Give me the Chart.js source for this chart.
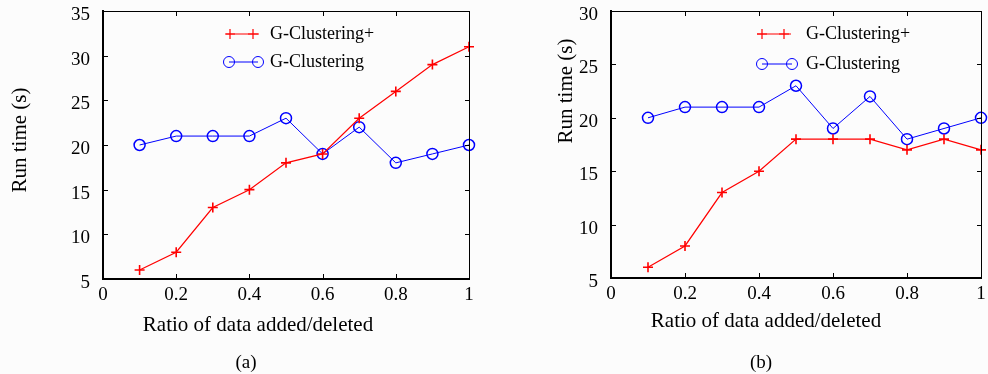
<!DOCTYPE html>
<html>
<head>
<meta charset="utf-8">
<script src="https://cdn.jsdelivr.net/npm/chart.js@4.4.0/dist/chart.umd.min.js"></script>
<style>
html, body { margin: 0; padding: 0; background: #fcfcfc; }
#wrap { position: relative; width: 988px; height: 374px; overflow: hidden; }
.box { position: absolute; top: 0; width: 494px; height: 374px; }
.cap { position: absolute; top: 351px; font: 19px 'Liberation Serif', serif; color: #000; transform: translateX(-50%); }
</style>
</head>
<body>
<div id="wrap">
  <div class="box" style="left:0"><canvas id="chartA" width="494" height="374"></canvas></div>
  <div class="box" style="left:494px"><canvas id="chartB" width="494" height="374"></canvas></div>
  <div class="cap" style="left:246px">(a)</div>
  <div class="cap" style="left:761px">(b)</div>
</div>
<script>
// data
const ratios = [0.1, 0.2, 0.3, 0.4, 0.5, 0.6, 0.7, 0.8, 0.9, 1.0];
const plusA = [6, 8, 13, 15, 18, 19, 23, 26, 29, 31];
const gclA  = [20, 21, 21, 21, 23, 19, 22, 18, 19, 20];
const plusB = [6, 8, 13, 15, 18, 18, 18, 17, 18, 17];
const gclB  = [20, 21, 21, 21, 23, 19, 22, 18, 19, 20];

const xTicks  = [0, 0.2, 0.4, 0.6, 0.8, 1];
const yTicksA = [5, 10, 15, 20, 25, 30, 35];
const yTicksB = [5, 10, 15, 20, 25, 30];

const seriesNames = ['G-Clustering+', 'G-Clustering'];
const xTitle = 'Ratio of data added/deleted';
const yTitle = 'Run time (s)';

const serif = "'Liberation Serif', 'Times New Roman', serif";

function pts(ys) {
    return ratios.map((x, i) => ({ x: x, y: ys[i] }));
}

// box round the plot with inward ticks, matlab style
function drawFrame(chart) {
    const g = chart.ctx;
    const a = chart.chartArea;
    const xs = chart.scales.x, ys = chart.scales.y;
    const L = Math.round(a.left), R = Math.round(a.right);
    const T = Math.round(a.top), B = Math.round(a.bottom);
    g.save();
    g.globalAlpha = 1;
    g.fillStyle = '#000000';
    g.fillRect(L, T, R - L + 1, 1);
    g.fillRect(R, T, 1, B - T + 1);
    g.fillRect(L - 1, T, 2, B - T + 1);
    g.fillRect(L - 1, B - 1, R - L + 2, 2);
    xTicks.forEach(v => {
        const px = Math.round(xs.getPixelForValue(v));
        g.fillRect(px, B - 5, 1, 4);
        g.fillRect(px, T + 1, 1, 4);
    });
    ys.ticks.forEach(t => {
        const py = Math.round(ys.getPixelForValue(t.value));
        g.fillRect(L + 1, py, 4, 1);
        g.fillRect(R - 4, py, 4, 1);
    });
    g.restore();
}

// axis titles, placed like the original (not centred on the plot)
function drawTitles(chart, t) {
    const g = chart.ctx;
    g.save();
    g.fillStyle = '#000';
    g.font = '21px ' + serif;
    g.textAlign = 'center';
    g.textBaseline = 'middle';
    g.fillText(xTitle, t.xx, t.xy);
    g.translate(t.yx, t.yy);
    g.rotate(-Math.PI / 2);
    g.fillText(yTitle, 0, 0);
    g.restore();
}

// legend drawn inside the plot, line sample with a marker at each end
function drawLegend(chart, opts) {
    const g = chart.ctx;
    g.save();
    chart.data.datasets.forEach((ds, i) => {
        const row = opts.rows[i];
        g.strokeStyle = ds.borderColor;
        g.lineWidth = ds.borderWidth;
        g.beginPath();
        g.moveTo(row.x0, row.y);
        g.lineTo(row.x1, row.y);
        g.stroke();
        row.marks.forEach(mx => {
            g.strokeStyle = ds.pointBorderColor;
            g.fillStyle = 'rgba(0,0,0,0)';
            Chart.helpers.drawPoint(g, {
                pointStyle: ds.pointStyle, radius: ds.pointRadius,
                borderWidth: ds.pointBorderWidth, rotation: 0
            }, mx, row.y);
        });
        g.fillStyle = '#000';
        g.font = '18px ' + serif;
        g.textBaseline = 'middle';
        g.textAlign = 'left';
        g.fillText(ds.label, opts.textX, row.y);
    });
    g.restore();
}

function makeChart(id, plus, gcl, yTicks, cfg) {
    const ctx = document.getElementById(id).getContext('2d');
    const yMin = yTicks[0], yMax = yTicks[yTicks.length - 1];
    return new Chart(ctx, {
        type: 'line',
        data: {
            datasets: [{
                label: seriesNames[0],
                data: pts(plus),
                borderColor: '#ff0000',
                borderWidth: 1.2,
                pointStyle: 'cross',
                pointRadius: 5,
                pointBorderColor: '#ff0000',
                pointBorderWidth: 1.6,
                pointBackgroundColor: 'rgba(0,0,0,0)',
                tension: 0,
                clip: false
            }, {
                label: seriesNames[1],
                data: pts(gcl),
                borderColor: '#0000ff',
                borderWidth: 1,
                pointStyle: 'circle',
                pointRadius: 5.5,
                pointBorderColor: '#0000ff',
                pointBorderWidth: 1.5,
                pointBackgroundColor: 'rgba(0,0,0,0)',
                tension: 0,
                clip: false
            }]
        },
        options: {
            responsive: false,
            animation: false,
            layout: { padding: cfg.padding },
            plugins: {
                legend: { display: false },
                tooltip: { enabled: false }
            },
            scales: {
                x: {
                    type: 'linear',
                    min: 0, max: 1,
                    afterBuildTicks: s => { s.ticks = xTicks.map(v => ({ value: v })); },
                    afterFit: s => { s.height = cfg.xHeight; s.paddingLeft = 0; s.paddingRight = 0; },
                    grid: { display: false, drawTicks: false },
                    border: { display: true, color: '#000', width: 2 },
                    ticks: {
                        color: '#000', padding: 7, maxRotation: 0,
                        font: { family: serif, size: 19, lineHeight: 1 },
                        callback: v => String(v)
                    }
                },
                x2: {
                    type: 'linear', position: 'top',
                    min: 0, max: 1,
                    afterFit: s => { s.height = 0; s.paddingLeft = 0; s.paddingRight = 0; },
                    grid: { display: false, drawTicks: false },
                    border: { display: true, color: '#000', width: 1 },
                    ticks: { display: false }
                },
                y: {
                    min: yMin, max: yMax,
                    afterBuildTicks: s => { s.ticks = yTicks.map(v => ({ value: v })); },
                    afterFit: s => { s.width = cfg.yWidth; s.paddingTop = 0; s.paddingBottom = 0; },
                    grid: { display: false, drawTicks: false },
                    border: { display: true, color: '#000', width: 2 },
                    ticks: {
                        color: '#000', padding: 13, labelOffset: 4,
                        font: { family: serif, size: 19, lineHeight: 1 },
                        callback: v => String(v)
                    }
                },
                y2: {
                    position: 'right',
                    min: yMin, max: yMax,
                    afterFit: s => { s.width = 0; s.paddingTop = 0; s.paddingBottom = 0; },
                    grid: { display: false, drawTicks: false },
                    border: { display: true, color: '#000', width: 1 },
                    ticks: { display: false }
                }
            }
        },
        plugins: [{
            id: 'matlabBits',
            afterDraw(chart) {
                drawFrame(chart);
                drawTitles(chart, cfg.titles);
                drawLegend(chart, cfg.legend);
            }
        }]
    });
}

makeChart('chartA', plusA, gclA, yTicksA, {
    padding: { left: 0, right: 25, top: 11, bottom: 29 },
    yWidth: 103, xHeight: 66,
    titles: { xx: 258, xy: 325, yx: 20, yy: 140 },
    legend: {
        textX: 270,
        rows: [
            { y: 34, x0: 226, x1: 259, marks: [230, 253] },
            { y: 62, x0: 229, x1: 258, marks: [229, 258] }
        ]
    }
});

makeChart('chartB', plusB, gclB, yTicksB, {
    padding: { left: 56, right: 5, top: 11, bottom: 33 },
    yWidth: 61, xHeight: 63,
    titles: { xx: 272, xy: 321, yx: 72, yy: 91 },
    legend: {
        textX: 312,
        rows: [
            { y: 34, x0: 263, x1: 297, marks: [268, 290] },
            { y: 64, x0: 268, x1: 298, marks: [268, 298] }
        ]
    }
});
</script>
</body>
</html>
